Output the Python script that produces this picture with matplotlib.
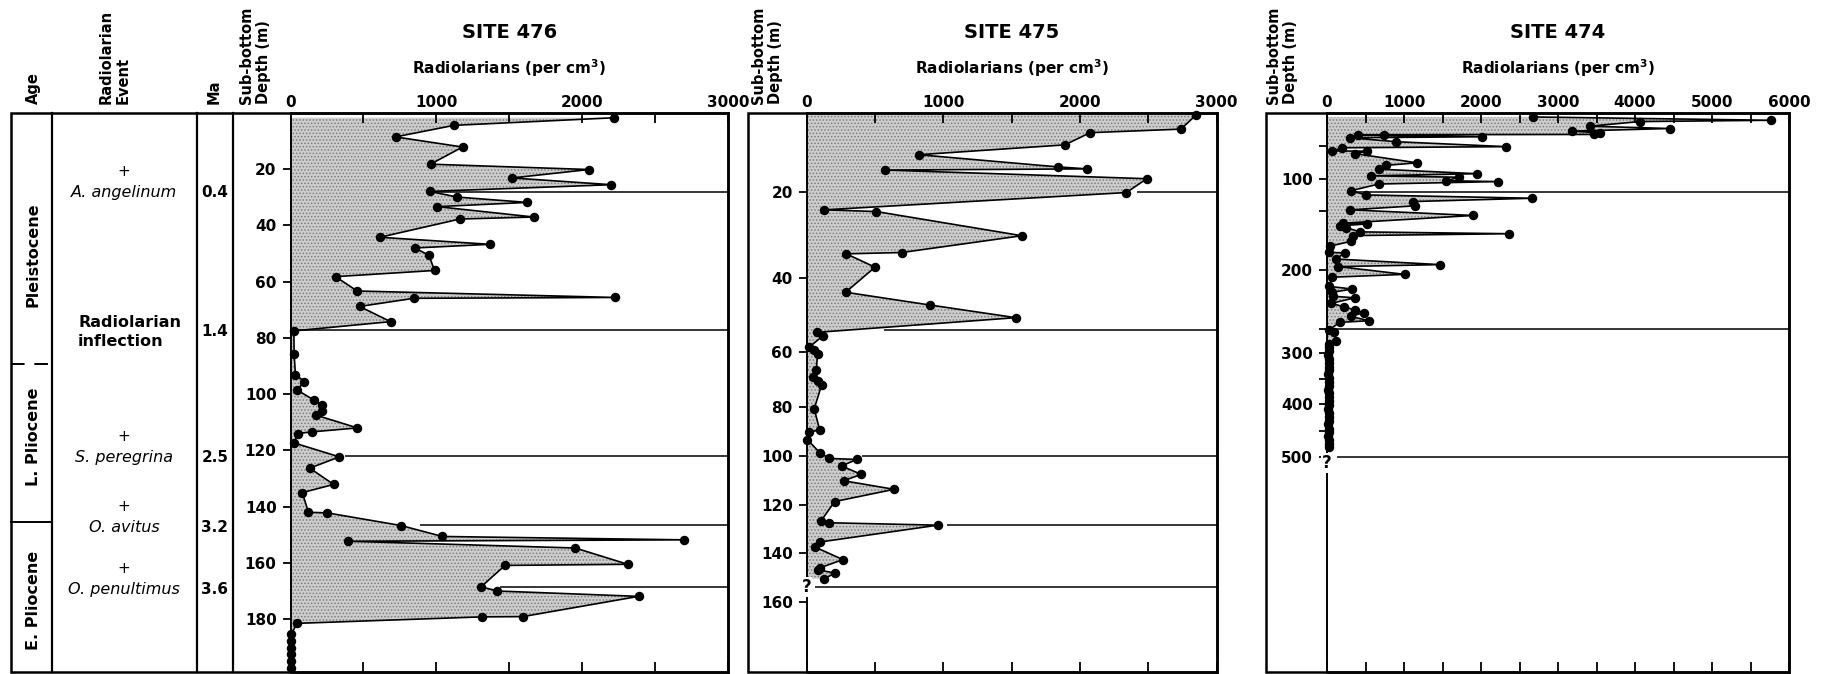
import numpy as np
import matplotlib
matplotlib.use("Agg")
import matplotlib.pyplot as plt
from matplotlib.patches import Rectangle

plt.rcParams['font.family'] = ['DejaVu Sans']
plt.rcParams['hatch.linewidth'] = 0.7

# ---------------- data ----------------
site_titles = ['SITE 476', 'SITE 475', 'SITE 474']
x_label = 'Radiolarians (per cm$^{\\mathbf{3}}$)'

# SITE 476: sub-bottom depth (m) and radiolarians per cm3
depth_476 = [1.7, 4.4, 8.5, 12.1, 18.2, 20.1, 23.1, 25.5, 27.9, 29.9,
             31.8, 33.3, 37.0, 37.7, 44.2, 46.7, 48.0, 50.6, 56.0, 58.2,
             63.3, 65.6, 65.9, 68.8, 74.2, 77.5, 85.7, 93.0, 95.5, 98.5,
             102.0, 104.0, 106.0, 107.5, 112.0, 113.4, 114.0, 117.3, 122.3, 126.3,
             132.1, 135.0, 142.0, 142.2, 146.7, 150.6, 151.8, 152.3, 154.7, 160.5,
             160.9, 168.5, 170.0, 171.9, 179.1, 179.2, 181.5, 185.4, 187.9, 190.2,
             192.5, 194.9, 197.3]
count_476 = [2215, 1120, 720, 1180, 960, 2047, 1520, 2200, 956, 1144,
             1624, 1007, 1670, 1162, 613, 1368, 853, 949, 988, 309,
             457, 2226, 846, 474, 686, 23, 25, 34, 95, 45,
             158, 215, 215, 178, 459, 146, 52, 23, 335, 132,
             296, 81, 123, 251, 757, 1042, 2696, 397, 1952, 2313,
             1471, 1307, 1419, 2387, 1593, 1311, 45, 5, 5, 5,
             5, 5, 5]

# SITE 475
depth_475 = [0.5, 4.1, 5.0, 8.1, 10.6, 13.7, 14.2, 14.5, 16.7, 20.2,
             24.2, 24.6, 30.2, 34.1, 34.4, 37.5, 43.7, 47.0, 50.3, 54.2,
             55.2, 58.5, 59.4, 60.6, 66.6, 69.1, 70.4, 71.9, 80.7, 89.4,
             90.2, 93.3, 98.6, 101.0, 101.4, 104.1, 107.5, 110.1, 113.6, 118.6,
             126.6, 127.4, 128.4, 135.4, 137.5, 142.7, 146.0, 146.8, 148.2, 150.5]
count_475 = [2850, 2740, 2075, 1890, 820, 1840, 2055, 575, 2490, 2340,
             130, 510, 1575, 695, 290, 500, 285, 900, 1530, 75,
             120, 20, 55, 80, 70, 45, 80, 110, 55, 95,
             20, 5, 95, 165, 365, 255, 400, 270, 640, 205,
             105, 165, 960, 100, 60, 265, 100, 80, 205, 130]

# SITE 474
depth_474 = [6, 11, 13, 20, 23.5, 27.5, 30, 32.5, 33, 34,
             36, 37.5, 43.5, 51, 52.7, 57.4, 57.9, 61.7, 75.5, 79.3,
             85.1, 92, 95.2, 97.3, 102.6, 104, 107.7, 117.9, 124.5, 129.6,
             134.7, 141.3, 147.4, 153.4, 160, 160.6, 162.3, 163.7, 167.4, 169,
             170.6, 175.4, 179.7, 184.9, 185.4, 190.6, 195.4, 197.1, 203.7, 206.1,
             213.9, 216.1, 218.9, 222.2, 223.6, 228.3, 231.1, 233.9, 236.1, 239.4,
             243, 244.4, 252, 256, 274,
             281, 288, 296, 303, 311, 318, 326, 333, 341, 348,
             356, 363, 371, 378, 386, 393, 401, 408, 416, 423,
             431, 438, 446, 453, 461, 468, 476, 482]
count_474 = [2670, 5760, 4060, 3410, 4450, 3180, 3550, 3470, 400, 740,
             2010, 295, 900, 2330, 200, 70, 520, 370, 1170, 770,
             675, 1950, 565, 1720, 1550, 2220, 675, 315, 500, 2665,
             1115, 1145, 305, 1895, 210, 520, 165, 250, 425, 2365,
             340, 315, 35, 25, 230, 115, 1470, 145, 1010, 70,
             25, 330, 70, 80, 360, 55, 220, 360, 475, 315,
             545, 165, 25, 90, 120,
             30, 20, 25, 15, 20, 30, 20, 25, 15, 20,
             25, 20, 15, 25, 20, 30, 20, 15, 25, 20,
             20, 15, 25, 20, 15, 20, 25, 30]

# event horizons: depth in each site and where the line starts (count)
event_depth_476 = [28.1, 77.2, 122.1, 146.6, 168.6]
event_start_476 = [956, 0, 373, 888, 1437]
event_depth_475 = [20.0, 53.5, 100.0, 128.3, 153.9]
event_start_475 = [2420, 563, 404, 1029, 61]
event_depth_474 = [119.7, 250.0, 500.0]
event_start_474 = [316, 0, 125]

# ticks
x_major_3000 = [0, 1000, 2000, 3000]
x_minor_3000 = [500, 1500, 2500]
x_major_6000 = [0, 1000, 2000, 3000, 4000, 5000, 6000]
x_minor_6000 = [500, 1500, 2500, 3500, 4500, 5500]
y_major_476 = [20, 40, 60, 80, 100, 120, 140, 160, 180]
y_major_475 = [20, 40, 60, 80, 100, 120, 140, 160]
y_major_474 = [100, 200, 300, 400, 500]
y_minor_474 = [50, 150, 250, 350, 450]

# left table
age_labels = ['Pleistocene', 'L. Pliocene', 'E. Pliocene']
event_names = ['A. angelinum', 'S. peregrina', 'O. avitus', 'O. penultimus']
event_ma = ['0.4', '2.5', '3.2', '3.6']
inflection_label = 'Radiolarian\ninflection'
inflection_ma = '1.4'

# ---------------- layout (pixels of the 1826x674 figure) ----------------
W, H = 1826, 674
TOP, BOT = 113, 672
# depth-axis calibration (depth -> pixel row) for the non-linear panels
scale_knots_475 = ([0, 20, 40, 53.5, 60, 80, 100, 120, 140, 160, 188.6],
                   [113, 191.7, 278, 330, 352, 407, 456, 505, 553, 602, 672])
scale_knots_474 = ([0, 100, 150, 200, 250, 300, 400, 500, 913],
                   [113, 179, 211.5, 270, 329, 353.3, 404.5, 456.7, 672])

FILL = '#cdcdcd'
HATCH = '#7d7d7d'
LW_FRAME = 1.8

fig = plt.figure(figsize=(W / 100, H / 100), dpi=100)

ov = fig.add_axes([0, 0, 1, 1], zorder=0)
ov.set_xlim(0, W)
ov.set_ylim(H, 0)
ov.axis('off')


def px_axes(left, right):
    return fig.add_axes([left / W, 1 - BOT / H, (right - left) / W, (BOT - TOP) / H], zorder=2)


def piecewise(knots):
    kd = np.asarray(knots[0], float)
    kp = np.asarray(knots[1], float)
    s0 = (kp[1] - kp[0]) / (kd[1] - kd[0])
    s1 = (kp[-1] - kp[-2]) / (kd[-1] - kd[-2])
    kd2 = np.r_[kd[0] - 1e4, kd, kd[-1] + 1e4]
    kp2 = np.r_[kp[0] - 1e4 * s0, kp, kp[-1] + 1e4 * s1]

    def fwd(d):
        return np.interp(np.asarray(d, float), kd2, kp2)

    def inv(p):
        return np.interp(np.asarray(p, float), kp2, kd2)
    return fwd, inv, kd[-1]


def draw_panel(ax, depth, count, xmax, xmaj, xmin, ymaj, ymin, ybottom,
               ev_depth, ev_start, scale=None):
    ax.set_facecolor('none')
    if scale is not None:
        ax.set_yscale('function', functions=scale)
    ax.set_xlim(0, xmax)
    ax.set_ylim(ybottom, 0)
    ax.fill_betweenx(depth, 0, count, facecolor=FILL, edgecolor=HATCH,
                     hatch='.....', linewidth=0, zorder=1)
    ax.hlines(ev_depth, ev_start, xmax, color='black', lw=1.1, zorder=2)
    ax.plot(count, depth, '-o', color='black', lw=1.2, ms=5.8, zorder=3,
            clip_on=False)
    ax.set_xticks(xmaj, [str(v) for v in xmaj], fontweight='bold', fontsize=11)
    ax.set_xticks(xmin, minor=True)
    ax.tick_params(axis='x', which='both', direction='in', top=True, bottom=True,
                   labeltop=True, labelbottom=False, length=7, width=1.3, pad=2)
    ax.set_yticks(ymaj, [str(v) for v in ymaj], fontweight='bold', fontsize=11)
    if ymin:
        ax.set_yticks(ymin, minor=True)
    else:
        ax.set_yticks([], minor=True)
    ax.tick_params(axis='y', which='both', direction='out', left=True, right=False,
                   length=6, width=1.3, pad=4)
    for s in ['top', 'right', 'bottom']:
        ax.spines[s].set_linewidth(LW_FRAME)
    ax.spines['left'].set_linewidth(1.4)


# ---- panel 1 ----
ax1 = px_axes(290.5, 728)
draw_panel(ax1, depth_476, count_476, 3000, x_major_3000, x_minor_3000,
           y_major_476, None, 198.8, event_depth_476, event_start_476)

# ---- panel 2 ----
f2, i2, yb2 = piecewise(scale_knots_475)
ax2 = px_axes(806.7, 1216.5)
draw_panel(ax2, depth_475, count_475, 3000, x_major_3000, x_minor_3000,
           y_major_475, None, yb2, event_depth_475, event_start_475, (f2, i2))
ax2.text(0, 153.9, '?', ha='center', va='center', fontsize=12, fontweight='bold',
         bbox=dict(fc='white', ec='none', pad=0.6), zorder=6, clip_on=False)

# ---- panel 3 ----
f3, i3, yb3 = piecewise(scale_knots_474)
ax3 = px_axes(1327, 1789)
draw_panel(ax3, depth_474, count_474, 6000, x_major_6000, x_minor_6000,
           y_major_474, y_minor_474, yb3, event_depth_474, event_start_474, (f3, i3))
ax3.text(0, 512, '?', ha='center', va='center', fontsize=12, fontweight='bold',
         bbox=dict(fc='white', ec='none', pad=0.6), zorder=6, clip_on=False)

# ---- frames ----
for (l, r) in [(11, 728), (748, 1216.5), (1266, 1789)]:
    ov.add_patch(Rectangle((l, TOP), r - l, BOT - TOP, fill=False, lw=LW_FRAME,
                           edgecolor='black'))
for x in [52, 197, 233]:
    ov.plot([x, x], [TOP, BOT], color='black', lw=1.6)
ov.plot([11, 52], [364, 364], color='black', lw=1.4, dashes=(7, 5))
ov.plot([11, 52], [522, 522], color='black', lw=1.4)

# ---- titles ----
for title, (l, r) in zip(site_titles, [(290.5, 728), (806.7, 1216.5), (1327, 1789)]):
    cx = (l + r) / 2
    ov.text(cx, 33, title, ha='center', va='center', fontsize=14, fontweight='bold')
    ov.text(cx, 68, x_label, ha='center', va='center', fontsize=11, fontweight='bold')

# ---- column headers (rotated) ----
hdr = dict(rotation=90, ha='center', va='bottom', fontsize=10.5, fontweight='bold',
           multialignment='left', linespacing=1.15)
ov.text(33, 104, 'Age', **hdr)
ov.text(115, 104, 'Radiolarian\nEvent', **hdr)
ov.text(214, 104, 'Ma', **hdr)
for cx in [255, 767, 1282]:
    ov.text(cx, 104, 'Sub-bottom\nDepth (m)', **hdr)

# ---- age column ----
for lab, cy in zip(age_labels, [255, 437, 600]):
    ov.text(33, cy, lab, rotation=90, ha='center', va='center', fontsize=11.5,
            fontweight='bold')

# ---- events ----
event_rows = [192.5, 457.5, 527.5, 589.5]
for name, ma, cy in zip(event_names, event_ma, event_rows):
    ov.text(124, cy - 21, '+', ha='center', va='center', fontsize=11)
    ov.text(124, cy, name, ha='center', va='center', fontsize=11.5, style='italic')
    ov.text(215, cy, ma, ha='center', va='center', fontsize=11, fontweight='bold')
ov.text(78, 332, inflection_label, ha='left', va='center', fontsize=11.5,
        fontweight='bold', linespacing=1.35)
ov.text(215, 332, inflection_ma, ha='center', va='center', fontsize=11,
        fontweight='bold')

fig.savefig('out.png', dpi=100)
